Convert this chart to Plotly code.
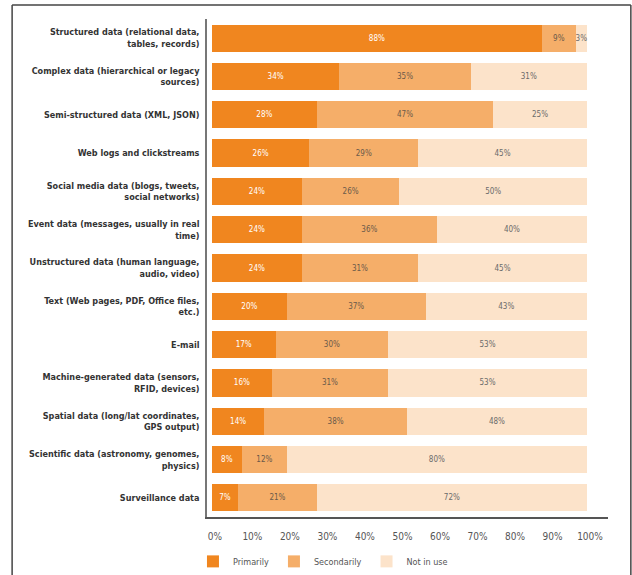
import plotly.graph_objects as go

categories = [
    "Structured data (relational data,<br>tables, records)",
    "Complex data (hierarchical or legacy<br>sources)",
    "Semi-structured data (XML, JSON)",
    "Web logs and clickstreams",
    "Social media data (blogs, tweets,<br>social networks)",
    "Event data (messages, usually in real<br>time)",
    "Unstructured data (human language,<br>audio, video)",
    "Text (Web pages, PDF, Office files,<br>etc.)",
    "E-mail",
    "Machine-generated data (sensors,<br>RFID, devices)",
    "Spatial data (long/lat coordinates,<br>GPS output)",
    "Scientific data (astronomy, genomes,<br>physics)",
    "Surveillance data",
]
primarily = [88, 34, 28, 26, 24, 24, 24, 20, 17, 16, 14, 8, 7]
secondarily = [9, 35, 47, 29, 26, 36, 31, 37, 30, 31, 38, 12, 21]
not_in_use = [3, 31, 25, 45, 50, 40, 45, 43, 53, 53, 48, 80, 72]
tick_vals = [0, 10, 20, 30, 40, 50, 60, 70, 80, 90, 100]
tick_text = [f"{v}%" for v in tick_vals]

series = [
    ("Primarily", primarily, "#F0861F", "#FFFFFF"),
    ("Secondarily", secondarily, "#F5AE69", "#6B5A4A"),
    ("Not in use", not_in_use, "#FCE3CA", "#6B6B6B"),
]

font_fam = "DejaVu Sans Condensed, DejaVu Sans, sans-serif"

fig = go.Figure()
for name, vals, col, tcol in series:
    fig.add_trace(go.Bar(
        name=name, y=categories, x=vals, orientation="h",
        marker=dict(color=col, line=dict(width=0)),
        text=[f"{v}%" for v in vals], textposition="inside", textangle=0,
        insidetextanchor="middle",
        textfont=dict(color=tcol, size=8, family=font_fam),
    ))

fig.update_layout(
    barmode="stack", bargap=0.29,
    width=632, height=575,
    margin=dict(l=207, r=24, t=19, b=58, autoexpand=False),
    paper_bgcolor="white", plot_bgcolor="white",
    font=dict(family=font_fam, color="#333333"),
    uniformtext=dict(minsize=8, mode="show"),
    legend=dict(orientation="h", x=-0.035, y=-0.06, xanchor="left", yanchor="top",
                font=dict(size=9, color="#555555"), traceorder="normal",
                itemwidth=30, tracegroupgap=0),
    showlegend=True,
)
fig.update_yaxes(autorange="reversed", showline=True, linecolor="#777777", linewidth=1.5,
                 automargin=False, ticks="", ticklabelstandoff=4,
                 tickfont=dict(size=9, color="#333333", family=font_fam, weight="bold"),
                 showgrid=False)
fig.update_xaxes(range=[-1.3, 105.6], tickvals=tick_vals, ticktext=tick_text,
                 automargin=False,
                 showline=True, linecolor="#555555", linewidth=1.5, showgrid=False,
                 zeroline=False, ticks="", ticklabelshift=3, ticklabelstandoff=9,
                 tickfont=dict(size=10, color="#555555"))

# outer frame
frame = dict(type="line", xref="paper", yref="paper", line=dict(color="#444444", width=1.5))
fig.add_shape(**frame, x0=-0.486, x1=-0.486, y0=1.028, y1=-0.2)
fig.add_shape(**frame, x0=-0.486, x1=1.057, y0=1.028, y1=1.028)
fig.add_shape(**frame, x0=1.057, x1=1.057, y0=1.028, y1=-0.2)

fig.write_html("out.html")
